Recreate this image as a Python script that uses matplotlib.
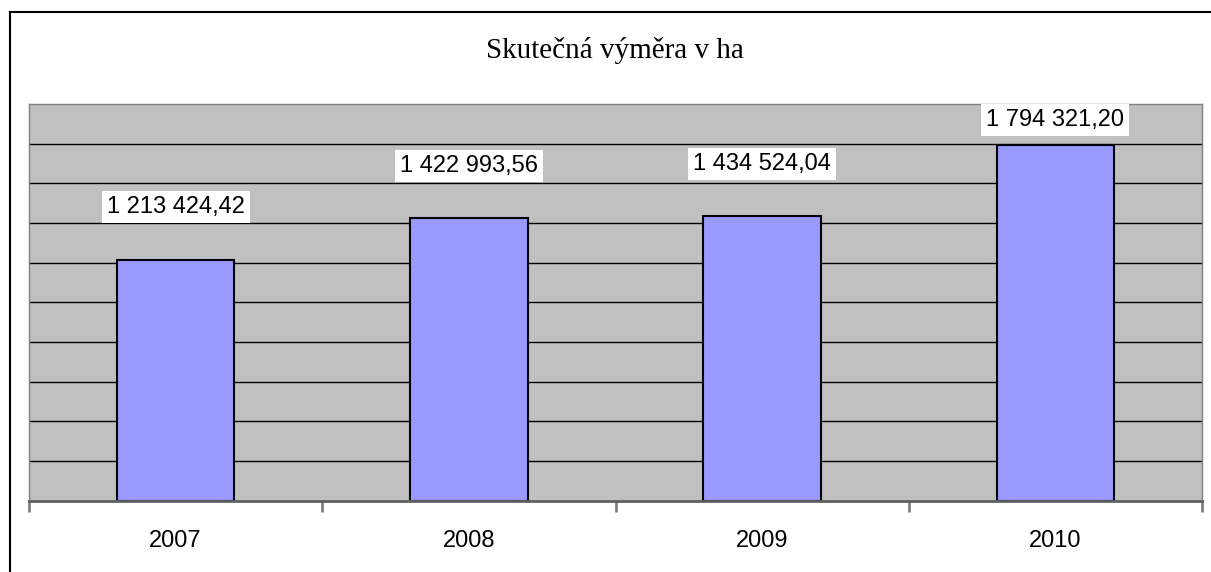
import matplotlib.pyplot as plt
from matplotlib.lines import Line2D

years = ['2007', '2008', '2009', '2010']
area = [1213424.42, 1422993.56, 1434524.04, 1794321.20]
labels = ['1 213 424,42', '1 422 993,56', '1 434 524,04', '1 794 321,20']

W, H = 1211, 572
fig = plt.figure(figsize=(W / 100, H / 100), dpi=100)
ax = fig.add_axes([29 / W, 1 - 500.5 / H, (1202 - 29) / W, (500.5 - 104) / H])

ymax = 2000000
ax.set_facecolor('#c0c0c0')
ax.set_xlim(-0.5, len(years) - 0.5)
ax.set_ylim(0, ymax)

# gridlines
for g in range(200000, ymax, 200000):
    ax.axhline(g, color='black', lw=1, zorder=1)

ax.bar(range(len(years)), area, width=0.4, color='#9999ff',
       edgecolor='black', linewidth=1.5, zorder=2)

# data labels
off = 265000
top_lim = ymax - 82000
for i, (v, t) in enumerate(zip(area, labels)):
    y = min(v + off, top_lim)
    ax.text(i, y, t, ha='center', va='center', fontsize=17,
            family='Liberation Sans', zorder=3,
            bbox=dict(facecolor='white', edgecolor='none', pad=3.5))

for s in ax.spines.values():
    s.set_color('#808080')
    s.set_linewidth(1)
ax.spines['bottom'].set_linewidth(2)
ax.spines['bottom'].set_color('#606060')

ax.set_yticks([])
ax.set_xticks([x - 0.5 for x in range(len(years) + 1)])
ax.set_xticklabels([])
ax.tick_params(axis='x', length=8, width=2, color='#808080')
for i, y in enumerate(years):
    ax.text(i, -0.102, y, transform=ax.get_xaxis_transform(), ha='center',
            va='center', fontsize=17, family='Liberation Sans')

fig.text(615 / W, 1 - 51 / H, 'Skutečná výměra v ha', ha='center',
         va='center', fontsize=21, family='Liberation Serif')

# chart border (left and top visible)
fig.add_artist(Line2D([9.5 / W, 9.5 / W], [0, 1 - 12 / H], color='black',
                      lw=1.5, transform=fig.transFigure))
fig.add_artist(Line2D([9.5 / W, 1], [1 - 12 / H, 1 - 12 / H], color='black',
                      lw=1.5, transform=fig.transFigure))

plt.savefig('out.png', dpi=100)
